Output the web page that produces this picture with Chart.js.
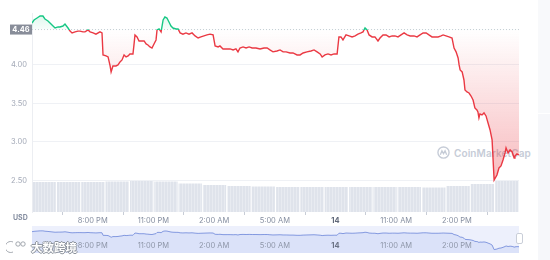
<!DOCTYPE html>
<html>
<head>
<meta charset="utf-8">
<script src="https://cdn.jsdelivr.net/npm/chart.js@4.4.1/dist/chart.umd.min.js"></script>
<style>
  html, body { margin: 0; padding: 0; background: #fff; overflow: hidden; }
  #wrap { position: relative; width: 550px; height: 260px; font-family: Inter, "Noto Sans", sans-serif; }
  #main { position: absolute; left: 0; top: 0; z-index: 2; }
  #navBox { position: absolute; left: 32px; top: 226px; width: 487px; height: 27px; z-index: 2; }
  .side { position: absolute; left: 538px; width: 12px; background: #f8f9fb; }
  #usd { position: absolute; left: 13px; top: 213px; font-size: 7px; font-weight: 700; color: #858ea0; z-index: 3; }
  #cmc { position: absolute; left: 437px; top: 146px; display: flex; align-items: center; gap: 4px; z-index: 1;
         font-size: 10px; font-weight: 600; color: #c6ccd7; letter-spacing: 0.1px; }
  #handle { position: absolute; left: 516px; top: 233px; width: 5px; height: 9px; background: #fff;
            border: 1px solid #c9ced8; border-radius: 2px; z-index: 3; }
  #wm { position: absolute; left: 6px; top: 239px; z-index: 4; display: flex; align-items: center; gap: 3px;
        font-family: "Noto Sans CJK SC", sans-serif; font-size: 11.5px; font-weight: 700; color: #fff;
        text-shadow: 1px 0 #8e949d, -1px 0 #8e949d, 0 1px #8e949d, 0 -1px #8e949d; }
</style>
</head>
<body>
<div id="wrap">
  <div class="side" style="top:0;height:113px"></div>
  <div class="side" style="top:114px;height:146px;background:#f6f7fa"></div>
  <div id="cmc">
    <svg width="13" height="13" viewBox="0 0 14 14"><circle cx="7" cy="7" r="6" fill="none" stroke="#c6ccd7" stroke-width="1.5"/>
      <path d="M3.6 9.3 L5.3 5.2 L7 8.2 L8.7 5.2 L10.4 9.3" fill="none" stroke="#c6ccd7" stroke-width="1.4"/></svg>
    <span>CoinMarketCap</span>
  </div>
  <canvas id="main" width="550" height="260"></canvas>
  <div id="usd">USD</div>
  <div id="navBox"><canvas id="nav"></canvas></div>
  <div id="handle"></div>
  <div id="wm">
    <svg width="22" height="14" viewBox="0 0 22 14"><path d="M7 2 A5.5 5.5 0 1 0 7 12" fill="none" stroke="#fff" stroke-width="2.4"/>
      <path d="M7 2 A5.5 5.5 0 1 0 7 12" fill="none" stroke="#8e949d" stroke-width="0.8"/>
      <circle cx="12" cy="4" r="2.2" fill="#fff" stroke="#8e949d" stroke-width="0.8"/>
      <circle cx="17" cy="4" r="2.2" fill="#fff" stroke="#8e949d" stroke-width="0.8"/></svg>
    <span>大数跨境</span>
  </div>
</div>
<script>
// 24h price, hours counted from 5:00 PM
const BASE_PRICE = 4.46;
const hours = [0, 0.10, 0.25, 0.40, 0.54, 0.64, 0.79, 0.89, 1.04, 1.14, 1.29, 1.38, 1.53, 1.63, 1.78, 1.88, 1.98, 2.13, 2.27, 2.37,
  2.52, 2.62, 2.77, 2.87, 3.02, 3.16, 3.36, 3.46, 3.51, 3.66, 3.76, 3.86, 3.91, 4.00, 4.15, 4.25, 4.35, 4.45, 4.55, 4.65,
  4.75, 4.84, 4.99, 5.04, 5.09, 5.19, 5.29, 5.39, 5.54, 5.64, 5.73, 5.83, 5.93, 6.03, 6.13, 6.18, 6.28, 6.38, 6.48, 6.57,
  6.67, 6.77, 6.87, 6.97, 7.12, 7.22, 7.32, 7.46, 7.61, 7.76, 7.91, 8.06, 8.21, 8.35, 8.50, 8.65, 8.80, 8.95, 9.05, 9.20,
  9.29, 9.44, 9.64, 9.79, 9.94, 10.08, 10.18, 10.28, 10.43, 10.58, 10.73, 10.88, 11.07, 11.27, 11.47, 11.62, 11.76, 11.91, 12.11, 12.26,
  12.41, 12.56, 12.75, 12.90, 13.10, 13.25, 13.40, 13.59, 13.79, 13.94, 14.09, 14.24, 14.34, 14.48, 14.63, 14.78, 14.93, 15.08, 15.17, 15.27,
  15.37, 15.52, 15.67, 15.82, 15.97, 16.11, 16.26, 16.36, 16.46, 16.56, 16.66, 16.81, 16.95, 17.10, 17.20, 17.35, 17.50, 17.65, 17.80, 17.94,
  18.09, 18.24, 18.39, 18.54, 18.69, 18.88, 19.03, 19.18, 19.33, 19.48, 19.62, 19.77, 19.92, 20.07, 20.22, 20.32, 20.46, 20.61, 20.76, 20.86,
  20.96, 21.06, 21.11, 21.16, 21.26, 21.35, 21.40, 21.50, 21.60, 21.70, 21.80, 21.89, 21.99, 22.04, 22.09, 22.14, 22.24, 22.34, 22.44, 22.54,
  22.64, 22.74, 22.84, 22.98, 23.08, 23.18, 23.28, 23.38, 23.43, 23.53, 23.63, 23.73, 23.83, 23.87, 23.97, 24.07];
const prices = [4.545, 4.584, 4.61, 4.636, 4.636, 4.597, 4.571, 4.545, 4.506, 4.48, 4.494, 4.494, 4.506, 4.532, 4.48, 4.44, 4.416, 4.43, 4.44, 4.44,
  4.43, 4.43, 4.455, 4.43, 4.416, 4.40, 4.43, 4.416, 4.13, 4.117, 4.104, 3.987, 3.909, 3.987, 3.987, 4.00, 4.039, 4.065, 4.13, 4.104,
  4.117, 4.143, 4.143, 4.26, 4.39, 4.364, 4.312, 4.312, 4.312, 4.273, 4.26, 4.234, 4.22, 4.273, 4.325, 4.455, 4.468, 4.43, 4.584, 4.623,
  4.61, 4.558, 4.506, 4.48, 4.468, 4.468, 4.416, 4.40, 4.416, 4.40, 4.416, 4.377, 4.35, 4.364, 4.377, 4.39, 4.40, 4.39, 4.247, 4.234,
  4.247, 4.208, 4.208, 4.208, 4.195, 4.208, 4.17, 4.22, 4.234, 4.22, 4.234, 4.22, 4.22, 4.208, 4.22, 4.22, 4.195, 4.17, 4.182, 4.195,
  4.17, 4.17, 4.156, 4.156, 4.13, 4.13, 4.156, 4.17, 4.182, 4.195, 4.17, 4.143, 4.104, 4.13, 4.143, 4.13, 4.143, 4.143, 4.364, 4.364,
  4.325, 4.39, 4.377, 4.364, 4.377, 4.40, 4.416, 4.43, 4.48, 4.455, 4.39, 4.364, 4.364, 4.312, 4.35, 4.39, 4.39, 4.364, 4.377, 4.377,
  4.364, 4.39, 4.416, 4.39, 4.377, 4.377, 4.364, 4.39, 4.416, 4.416, 4.39, 4.364, 4.364, 4.364, 4.377, 4.39, 4.377, 4.364, 4.35, 4.22,
  4.17, 4.091, 4.0, 3.935, 3.909, 3.805, 3.675, 3.649, 3.636, 3.597, 3.545, 3.442, 3.416, 3.39, 3.312, 3.364, 3.351, 3.377, 3.338, 3.247,
  3.156, 3.026, 2.506, 2.571, 2.662, 2.688, 2.766, 2.857, 2.922, 2.857, 2.896, 2.87, 2.792, 2.818, 2.844, 2.831];

// volume, 20 buckets
const volumeHours = [0.60, 1.81, 3.01, 4.21, 5.42, 6.62, 7.82, 9.02, 10.23, 11.43, 12.64, 13.84, 15.04, 16.25, 17.45, 18.65, 19.86, 21.06, 22.26, 23.47];
const volumes = [30, 30, 30, 30.5, 31, 30.5, 28.5, 27, 26, 25.5, 25, 25, 25, 25, 25, 25, 24.5, 26, 28, 31];

const tickHours = [3, 6, 9, 12, 15, 18, 21];
const tickLabels = ["8:00 PM", "11:00 PM", "2:00 AM", "5:00 AM", "14", "11:00 AM", "2:00 PM"];
const priceTicks = [2.5, 3, 3.5, 4];

const GREEN = "#16c784";
const RED = "#ea3943";
const END_HOUR = 24.07;

const pricePoints = hours.map((h, i) => ({ x: h, y: prices[i] }));

function baseRatio(chart) {
  const { chartArea, scales } = chart;
  const yb = scales.y.getPixelForValue(BASE_PRICE);
  return Math.min(1, Math.max(0, (yb - chartArea.top) / (chartArea.bottom - chartArea.top)));
}

function lineColor(ctx) {
  const chart = ctx.chart;
  if (!chart.chartArea) return RED;
  const { top, bottom } = chart.chartArea;
  const t = baseRatio(chart);
  const g = chart.ctx.createLinearGradient(0, top, 0, bottom);
  g.addColorStop(0, GREEN);
  g.addColorStop(t, GREEN);
  g.addColorStop(t, RED);
  g.addColorStop(1, RED);
  return g;
}

function fillColor(ctx) {
  const chart = ctx.chart;
  if (!chart.chartArea) return "rgba(234,57,67,0.1)";
  const { top, bottom } = chart.chartArea;
  const t = baseRatio(chart);
  const g = chart.ctx.createLinearGradient(0, top, 0, bottom);
  g.addColorStop(0, "rgba(22,199,132,0.16)");
  g.addColorStop(t, "rgba(22,199,132,0.03)");
  g.addColorStop(t, "rgba(234,57,67,0.0)");
  g.addColorStop(1, "rgba(234,57,67,0.42)");
  return g;
}

const mainCanvas = document.getElementById("main");
const mctx = mainCanvas.getContext("2d");

// striped fill for the volume columns
const stripe = document.createElement("canvas");
stripe.width = 3; stripe.height = 1;
const sctx = stripe.getContext("2d");
sctx.fillStyle = "#dfe3eb"; sctx.fillRect(0, 0, 2, 1);
sctx.fillStyle = "#e8ebf1"; sctx.fillRect(2, 0, 1, 1);
const volPattern = mctx.createPattern(stripe, "repeat");

const baseLabel = {
  id: "baseLabel",
  afterDraw(chart) {
    const { ctx, chartArea, scales } = chart;
    const y = scales.y.getPixelForValue(BASE_PRICE);
    ctx.save();
    ctx.fillStyle = "#888d99";
    ctx.fillRect(chartArea.left - 22, y - 5, 22, 10);
    ctx.fillStyle = "#fff";
    ctx.font = "700 7.5px Inter";
    ctx.textAlign = "center";
    ctx.textBaseline = "middle";
    ctx.fillText(BASE_PRICE.toFixed(2), chartArea.left - 11, y + 0.5);
    ctx.restore();
  }
};

new Chart(mctx, {
  type: "line",
  data: {
    datasets: [
      {
        label: "Price",
        data: pricePoints,
        yAxisID: "y",
        borderColor: lineColor,
        backgroundColor: fillColor,
        borderWidth: 1.4,
        pointRadius: 0,
        tension: 0,
        fill: { value: BASE_PRICE },
        order: 1,
      },
      {
        label: "Open",
        data: [{ x: 0, y: BASE_PRICE }, { x: END_HOUR, y: BASE_PRICE }],
        yAxisID: "y",
        borderColor: "#c9cdd6",
        borderWidth: 1,
        borderDash: [1, 2],
        pointRadius: 0,
        fill: false,
        order: 2,
      },
      {
        type: "bar",
        label: "Volume",
        data: volumeHours.map((h, i) => ({ x: h, y: volumes[i] })),
        yAxisID: "yv",
        backgroundColor: volPattern,
        borderWidth: 0,
        barPercentage: 0.96,
        categoryPercentage: 1,
        order: 3,
      },
    ],
  },
  options: {
    responsive: false,
    animation: false,
    events: [],
    layout: { padding: { left: 0, right: 31, top: 13, bottom: 34 } },
    plugins: { legend: { display: false }, tooltip: { enabled: false } },
    scales: {
      x: {
        type: "linear",
        min: 0,
        max: END_HOUR,
        offset: false,
        afterBuildTicks: (s) => { s.ticks = tickHours.map((v) => ({ value: v })); },
        afterFit: (s) => { s.height = 14; },
        grid: { display: true, drawOnChartArea: false, tickLength: 3, color: "#c8cdd6" },
        border: { display: false },
        ticks: {
          autoSkip: false,
          maxRotation: 0,
          padding: 1,
          color: (c) => (c.index === 4 ? "#5f6778" : "#858ea0"),
          font: (c) => ({ family: "Inter", size: 7.5, weight: c.index === 4 ? "700" : "400" }),
          callback: (v, i) => tickLabels[i],
        },
      },
      y: {
        position: "left",
        min: 2.09,
        max: 4.675,
        afterBuildTicks: (s) => { s.ticks = priceTicks.map((v) => ({ value: v })); },
        afterFit: (s) => { s.width = 32; },
        grid: { color: "#eff1f5", drawTicks: false },
        border: { display: true, color: "#eceef2" },
        ticks: {
          padding: 5,
          color: "#a3a9b7",
          font: { family: "Inter", size: 7.5 },
          callback: (v) => Number(v).toFixed(2),
        },
      },
      yv: {
        display: false,
        min: 0,
        max: 199,
      },
    },
  },
  plugins: [baseLabel],
});

// navigator strip under the chart
const navLabels = {
  id: "navLabels",
  beforeDraw(chart) {
    const { ctx, chartArea } = chart;
    ctx.save();
    ctx.fillStyle = "#edf0fc";
    ctx.fillRect(chartArea.left, chartArea.top, chartArea.width, chartArea.height);
    ctx.restore();
  },
  afterDraw(chart) {
    const { ctx, scales, chartArea } = chart;
    ctx.save();
    ctx.textAlign = "center";
    ctx.textBaseline = "middle";
    tickHours.forEach((h, i) => {
      ctx.font = (i === 4 ? "700 " : "400 ") + "7.5px Inter";
      ctx.fillStyle = i === 4 ? "#6a7284" : "#8e96a8";
      ctx.fillText(tickLabels[i], scales.x.getPixelForValue(h), chartArea.top + 20);
    });
    ctx.restore();
  }
};

new Chart(document.getElementById("nav"), {
  type: "line",
  data: {
    datasets: [{
      data: pricePoints,
      borderColor: "#8399e0",
      backgroundColor: "#dbe2f9",
      borderWidth: 1,
      pointRadius: 0,
      tension: 0,
      fill: "start",
    }],
  },
  options: {
    responsive: true,
    maintainAspectRatio: false,
    animation: false,
    events: [],
    layout: { padding: 0 },
    plugins: { legend: { display: false }, tooltip: { enabled: false } },
    scales: {
      x: { type: "linear", display: false, min: 0, max: END_HOUR },
      y: { display: false, min: 2.12, max: 5.19 },
    },
  },
  plugins: [navLabels],
});
</script>
</body>
</html>
